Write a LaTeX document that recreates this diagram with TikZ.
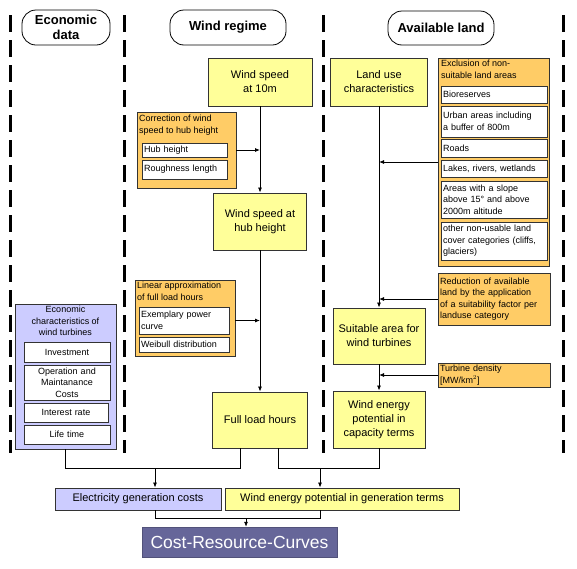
\documentclass[tikz,border=0pt]{standalone}
\usepackage{fontspec}
\setmainfont{Liberation Sans}
\usetikzlibrary{arrows.meta}
\definecolor{yel}{HTML}{FFFF99}
\definecolor{org}{HTML}{FFCC66}
\definecolor{lav}{HTML}{CCCCFF}
\definecolor{slate}{HTML}{666699}
\definecolor{edge}{HTML}{333333}
\tikzset{
	lane/.style={line width=3pt,dash pattern=on 17pt off 8pt},
	hdr/.style={draw,line width=.8pt,rounded corners=14pt,align=center,inner sep=0pt,font=\bfseries\fontsize{13}{15}\selectfont},
	ybox/.style={draw=edge,fill=yel,line width=.9pt,align=center,inner sep=0pt,font=\fontsize{11}{14}\selectfont},
	obox/.style={draw=edge,fill=org,line width=.9pt,inner sep=2pt,align=left,font=\fontsize{9}{11.5}\selectfont},
	bbox/.style={draw=edge,fill=lav,line width=.9pt,inner sep=0pt,align=center,font=\fontsize{11}{13}\selectfont},
	ttl/.style={inner sep=0pt,font=\fontsize{9}{11.5}\selectfont},
	wbox/.style={draw=edge,fill=white,line width=.8pt,inner sep=2pt,align=left,font=\fontsize{9}{11.5}\selectfont},
	arr/.style={line width=.8pt,-{Latex[length=5pt,width=4pt]}},
	link/.style={line width=.8pt}
}
\begin{document}
\begin{tikzpicture}[x=1pt,y=-1pt]
	\useasboundingbox(0,0)rectangle(577,568);
	\draw[lane](10,15)--(10,453);
	\draw[lane](124,15)--(124,453);
	\draw[lane](323,15)--(323,453);
	\draw[lane](563,15)--(563,453);
	\node[hdr,minimum width=88pt,minimum height=35pt](hEcon)at(66,27.5){Economic\\data};
	\node[hdr,minimum width=116pt,minimum height=35pt](hWind)at(228,27.5){Wind regime};
	\node[hdr,minimum width=106pt,minimum height=34pt](hLand)at(441,28){Available land};
	\node[ybox,minimum width=104pt,minimum height=48pt](ws10)at(260,82){Wind speed\\at 10m};
	\node[ybox,minimum width=93pt,minimum height=57pt](wshub)at(260,221.5){Wind speed at\\hub height};
	\node[ybox,minimum width=95pt,minimum height=56pt](flh)at(260,420){Full load hours};
	\node[ybox,minimum width=97pt,minimum height=48pt](landuse)at(379,82){Land use\\characteristics};
	\node[ybox,minimum width=92pt,minimum height=56pt](suit)at(379,336){Suitable area for\\wind turbines};
	\node[ybox,minimum width=92pt,minimum height=57pt](wecap)at(379,419.5){Wind energy\\potential in\\capacity terms};
	\node[obox,minimum width=99pt,minimum height=76pt](corr)at(186.5,150){};
	\node[ttl,anchor=north west,align=left](corrT)at(139,115){Correction of wind\\speed to hub height};
	\node[wbox,text width=81pt,minimum height=14pt](hubh)at(184.5,150){Hub height};
	\node[wbox,text width=81pt,minimum height=19pt](rough)at(184.5,169.5){Roughness length};
	\node[obox,minimum width=100pt,minimum height=76pt](lin)at(185,318){};
	\node[ttl,anchor=north west,align=left](linT)at(137,282){Linear approximation\\of full load hours};
	\node[wbox,text width=86pt,minimum height=27pt](power)at(184,320.5){Exemplary power\\curve};
	\node[wbox,text width=86pt,minimum height=15pt](weib)at(184,344.5){Weibull distribution};
	\node[obox,minimum width=111pt,minimum height=208pt](excl)at(493.5,162){};
	\node[ttl,anchor=north west,align=left](exclT)at(441,60){Exclusion of non-\\suitable land areas};
	\node[wbox,text width=102pt,minimum height=17pt](bio)at(494,94.5){Bioreserves};
	\node[wbox,text width=102pt,minimum height=31pt](urban)at(494,121.5){Urban areas including\\a buffer of 800m};
	\node[wbox,text width=102pt,minimum height=18pt](roads)at(494,148){Roads};
	\node[wbox,text width=102pt,minimum height=17pt](lakes)at(494,168.5){Lakes, rivers, wetlands};
	\node[wbox,text width=102pt,minimum height=37pt](slope)at(494,199.5){Areas with a slope\\above 15° and above\\2000m altitude};
	\node[wbox,text width=102pt,minimum height=38pt](other)at(494,241){other non-usable land\\cover categories (cliffs,\\glaciers)};
	\node[obox,text width=108pt,minimum height=52pt](red)at(494,299){Reduction of available\\land by the application\\of a suitability factor per\\landuse category};
	\node[obox,text width=108pt,minimum height=24pt](dens)at(494,375){Turbine density\\{[}MW/km$^2${]}};
	\node[bbox,minimum width=101pt,minimum height=145pt](econ)at(65.5,376.5){};
	\node[ttl,anchor=north,align=center](econT)at(65.5,306){Economic\\characteristics of\\wind turbines};
	\node[wbox,align=center,text width=82pt,minimum height=20pt](inv)at(67,352){Investment};
	\node[wbox,align=center,text width=82pt,minimum height=35pt](om)at(67,382.5){Operation and\\Maintanance\\Costs};
	\node[wbox,align=center,text width=80pt,minimum height=19pt](int)at(66,412.5){Interest rate};
	\node[wbox,align=center,text width=82pt,minimum height=19pt](life)at(67,434.5){Life time};
	\node[bbox,minimum width=166pt,minimum height=22pt](egc)at(138,499){Electricity generation costs};
	\node[ybox,minimum width=234pt,minimum height=22pt](wegen)at(342,499){Wind energy potential in generation terms};
	\node[draw=slate!80!black,fill=slate,text=white,minimum width=195pt,minimum height=30pt,inner sep=0pt,font=\fontsize{17.5}{20}\selectfont](crc)at(239.5,542){Cost-Resource-Curves};
	\draw[arr](ws10)--(wshub);
	\draw[arr](hubh.east-|corr.east)--(hubh.east-|ws10.south);
	\draw[arr](wshub)--(flh);
	\draw[arr](power.east-|lin.east)--(power.east-|wshub.south);
	\draw[arr](landuse)--(suit);
	\draw[arr](excl.west)--(excl.west-|landuse.south);
	\draw[arr](red.west)--(red.west-|landuse.south);
	\draw[arr](suit)--(wecap);
	\draw[arr](dens.west)--(dens.west-|suit.south);
	\coordinate(j1)at(155,468);
	\coordinate(j2)at(320,468);
	\coordinate(j3)at(246,518);
	\draw[link](econ.south)|-(j1)-|([xshift=-20pt]flh.south);
	\draw[arr](j1)--(j1|-egc.north);
	\draw[link]([xshift=18pt]flh.south)|-(j2)-|(wecap.south);
	\draw[arr](j2)--(j2|-wegen.north);
	\draw[link](j1|-egc.south)|-(j3)-|(j2|-wegen.south);
	\draw[arr](j3)--(j3|-crc.north);
\end{tikzpicture}
\end{document}
